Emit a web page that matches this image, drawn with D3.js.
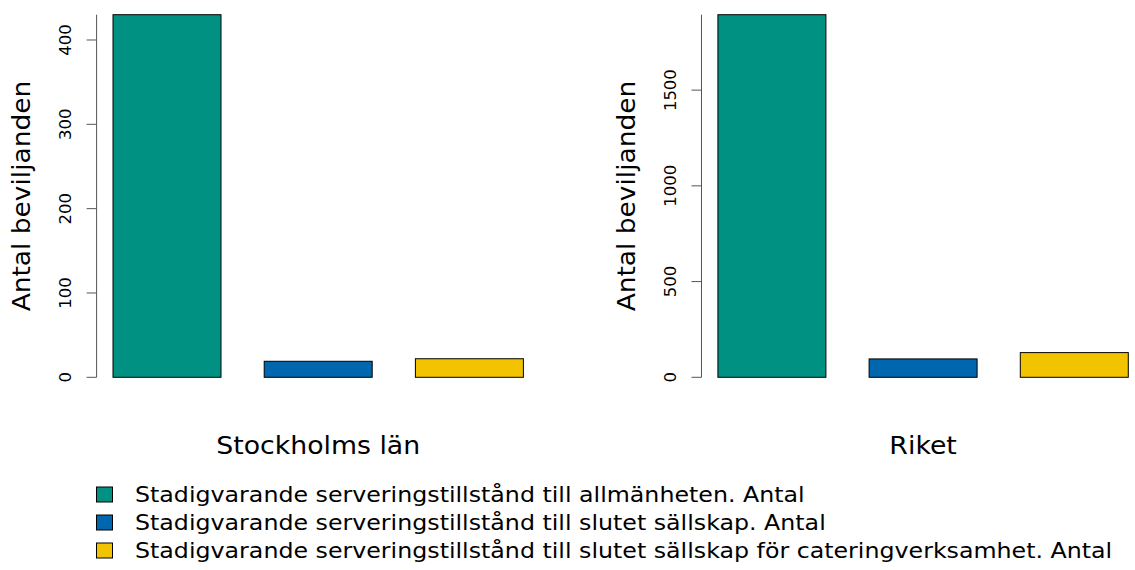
<!DOCTYPE html>
<html>
<head>
<meta charset="utf-8">
<script src="https://cdn.jsdelivr.net/npm/d3@7"></script>
<style>
body{margin:0;background:#fff}
text{font-family:"DejaVu Sans",Verdana,sans-serif;fill:#000}
</style>
</head>
<body>
<div id="container"></div>
<script>
const series = ["Stadigvarande serveringstillstånd till allmänheten. Antal",
  "Stadigvarande serveringstillstånd till slutet sällskap. Antal",
  "Stadigvarande serveringstillstånd till slutet sällskap för cateringverksamhet. Antal"]
const colors = ["#009183","#0066ad","#f2c300"]
const regions = ["Stockholms län","Riket"]
const stockholmValues = [430,19,22]
const riketValues = [1894,96,129]
const stockholmTicks = [0,100,200,300,400]
const riketTicks = [0,500,1000,1500]

const width=1135, height=570
const svg = d3.select("#container").append("svg")
  .attr("width",width).attr("height",height)

const panels = [
  {name:regions[0], values:stockholmValues, ticks:stockholmTicks, left:96.6},
  {name:regions[1], values:riketValues, ticks:riketTicks, left:701.5}
]

const plotTop=14.7, plotBottom=377.3, plotW=443.2

panels.forEach(p=>{
  const g = svg.append("g")
  // R barplot style: bars width 1, space 0.4, xlim extended 4%
  const x = d3.scaleLinear().domain([0.248,4.352]).range([p.left,p.left+plotW])
  const y = d3.scaleLinear().domain([0,d3.max(p.values)]).range([plotBottom,plotTop])

  g.selectAll("rect")
   .data(p.values)
   .enter()
   .append("rect")
   .attr("x",(d,i)=>x(0.4+i*1.4))
   .attr("width",x(1)-x(0))
   .attr("y",d=>y(d))
   .attr("height",d=>plotBottom-y(d))
   .attr("fill",(d,i)=>colors[i])
   .attr("stroke","#000")
   .attr("stroke-width",1)

  const axis = g.append("g").attr("transform",`translate(${p.left},0)`)
  axis.append("line").attr("x1",0).attr("x2",0).attr("y1",y(0)).attr("y2",plotTop).attr("stroke","#555")
  axis.selectAll(".tick").data(p.ticks).enter().append("line")
    .attr("x1",-10).attr("x2",0).attr("y1",d=>y(d)).attr("y2",d=>y(d)).attr("stroke","#555")
  axis.selectAll(".lab").data(p.ticks).enter().append("text")
    .attr("transform",d=>`translate(-31,${y(d)}) rotate(-90) scale(1.1,1)`)
    .attr("text-anchor","middle")
    .attr("dy","0.35em")
    .attr("font-size",15)
    .text(d=>d)

  g.append("text")
   .attr("transform",`translate(${p.left-75},196) rotate(-90) scale(1.08,1)`)
   .attr("text-anchor","middle")
   .attr("dy","0.35em")
   .attr("font-size",24.5)
   .text("Antal beviljanden")

  g.append("text")
   .attr("transform",`translate(${p.left+plotW/2},445) scale(1.07,1)`)
   .attr("text-anchor","middle")
   .attr("dy","0.35em")
   .attr("font-size",25)
   .text(p.name)
})

const legend = svg.append("g")
series.forEach((s,i)=>{
  legend.append("rect").attr("x",96.5).attr("y",487+i*28).attr("width",16).attr("height",15)
    .attr("fill",colors[i]).attr("stroke","#000")
  legend.append("text").attr("transform",`translate(135,${494.5+i*28}) scale(1.157,1)`)
    .attr("dy","0.35em")
    .attr("font-size",20.5)
    .text(s)
})
</script>
</body>
</html>
